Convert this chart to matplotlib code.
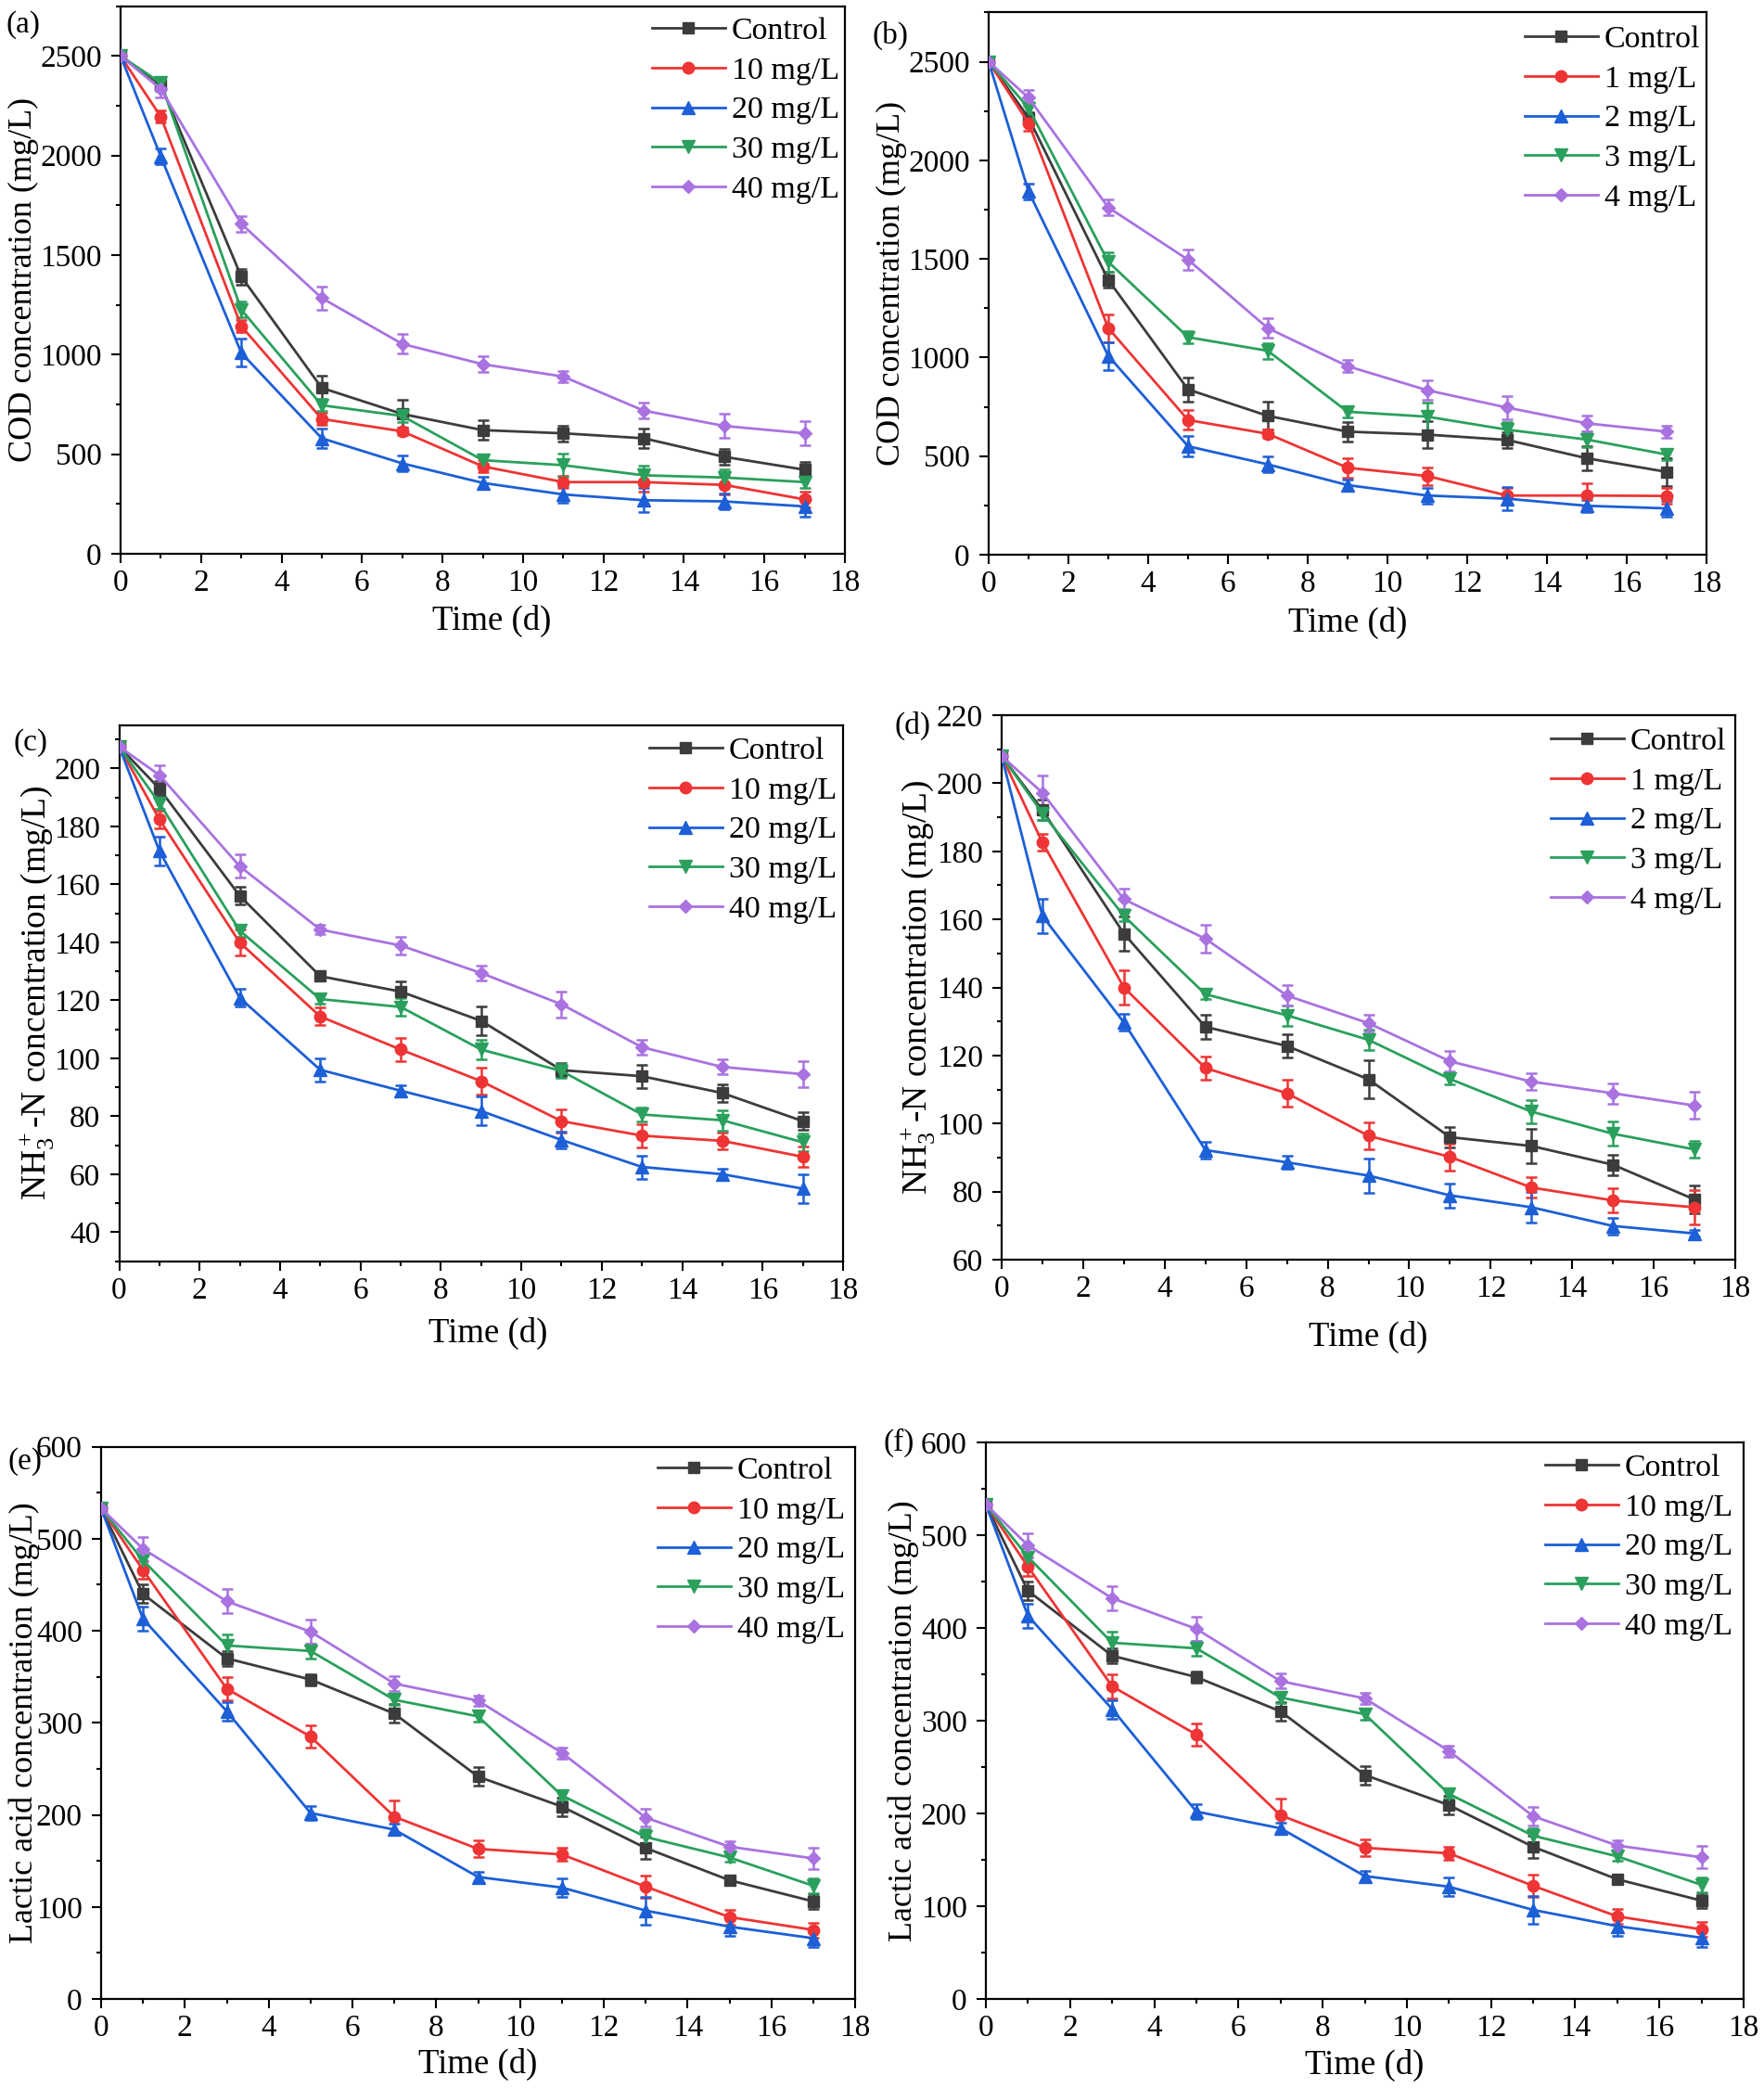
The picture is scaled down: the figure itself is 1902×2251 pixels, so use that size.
import matplotlib
matplotlib.use("Agg")
import matplotlib.pyplot as plt
from matplotlib.ticker import MultipleLocator, AutoMinorLocator

plt.rcParams['font.family'] = ['Liberation Serif', 'DejaVu Serif']
plt.rcParams['mathtext.fontset'] = 'custom'
plt.rcParams['mathtext.rm'] = 'Liberation Serif'
plt.rcParams['mathtext.it'] = 'Liberation Serif'
plt.rcParams['mathtext.default'] = 'regular'

time = [0, 1, 3, 5, 7, 9, 11, 13, 15, 17]

colors = ['#3c3c3c', '#ee3434', '#1c5fd6', '#2aa05c', '#a972e0']
markers = ['s', 'o', '^', 'v', 'D']
msizes = [8.5, 9, 9.5, 9.5, 6.8]

labels_high = ['Control', '10 mg/L', '20 mg/L', '30 mg/L', '40 mg/L']
labels_low = ['Control', '1 mg/L', '2 mg/L', '3 mg/L', '4 mg/L']

# (a) COD, high dose
cod_a_control = [2500, 2355, 1392, 833, 702, 621, 605, 580, 487, 422]
cod_a_10 = [2500, 2195, 1143, 677, 615, 439, 360, 360, 346, 273]
cod_a_20 = [2500, 1995, 1009, 580, 454, 356, 298, 269, 263, 238]
cod_a_30 = [2500, 2365, 1226, 746, 692, 470, 445, 394, 383, 360]
cod_a_40 = [2500, 2334, 1657, 1284, 1054, 952, 890, 719, 642, 605]
cod_a_control_err = [15, 30, 40, 60, 70, 50, 40, 50, 40, 40]
cod_a_10_err = [15, 30, 30, 30, 20, 30, 30, 50, 50, 40]
cod_a_20_err = [15, 40, 70, 50, 40, 30, 40, 60, 40, 50]
cod_a_30_err = [15, 30, 40, 30, 30, 20, 60, 50, 40, 30]
cod_a_40_err = [15, 40, 40, 60, 50, 40, 30, 40, 60, 60]

# (b) COD, low dose
cod_b_control = [2500, 2216, 1393, 838, 704, 624, 609, 582, 489, 420]
cod_b_1 = [2500, 2189, 1149, 683, 613, 441, 399, 300, 300, 298]
cod_b_2 = [2500, 1842, 1008, 550, 458, 353, 300, 284, 248, 235]
cod_b_3 = [2500, 2265, 1485, 1103, 1034, 725, 700, 634, 584, 508]
cod_b_4 = [2500, 2317, 1761, 1496, 1149, 956, 834, 746, 666, 624]
cod_b_control_err = [15, 30, 40, 60, 70, 50, 70, 40, 60, 70]
cod_b_1_err = [15, 40, 70, 50, 20, 50, 45, 40, 60, 40]
cod_b_2_err = [15, 40, 70, 50, 40, 30, 40, 60, 30, 40]
cod_b_3_err = [15, 30, 50, 30, 40, 30, 70, 40, 40, 30]
cod_b_4_err = [15, 40, 40, 50, 50, 30, 50, 60, 40, 30]

# (c) NH3-N, high dose
nh_c_control = [207.5, 193.0, 156.0, 128.3, 123.0, 112.9, 95.9, 93.8, 88.0, 78.3]
nh_c_10 = [207.5, 182.4, 139.9, 114.4, 103.0, 92.1, 78.3, 73.3, 71.5, 66.0]
nh_c_20 = [207.5, 171.5, 120.8, 96.0, 88.8, 81.8, 71.8, 62.5, 60.0, 55.0]
nh_c_30 = [207.5, 188.0, 144.0, 120.4, 117.7, 103.0, 95.6, 80.6, 78.6, 71.0]
nh_c_40 = [207.5, 197.7, 166.2, 144.4, 138.9, 129.4, 118.6, 103.8, 97.0, 94.5]
nh_c_control_err = [1.5, 2.5, 3.0, 1.0, 3.5, 5.0, 2.5, 4.0, 3.0, 3.0]
nh_c_10_err = [1.5, 3.0, 4.5, 3.0, 4.0, 4.5, 4.0, 4.0, 3.0, 3.5]
nh_c_20_err = [1.5, 5.0, 3.0, 4.0, 2.0, 5.0, 3.0, 4.0, 2.0, 5.0]
nh_c_30_err = [1.5, 2.0, 2.0, 1.5, 3.0, 3.5, 2.5, 2.5, 3.5, 3.0]
nh_c_40_err = [1.5, 3.5, 4.0, 1.5, 3.0, 2.5, 4.5, 2.5, 2.5, 4.5]

# (d) NH3-N, low dose
nh_d_control = [208, 192.1, 155.8, 128.4, 122.8, 113.0, 96.0, 93.4, 87.9, 77.7]
nh_d_1 = [208, 182.6, 140.0, 116.3, 108.9, 96.4, 90.2, 81.2, 77.4, 75.4]
nh_d_2 = [208, 161.0, 129.7, 92.2, 88.6, 84.7, 78.9, 75.4, 69.9, 67.7]
nh_d_3 = [208, 191.2, 161.0, 138.0, 131.8, 124.6, 113.1, 103.5, 97.0, 92.4]
nh_d_4 = [208, 197.2, 165.9, 154.3, 137.6, 129.5, 118.3, 112.3, 108.9, 105.3]
nh_d_control_err = [1.5, 3.0, 5.0, 3.5, 3.5, 5.5, 3.0, 5.0, 3.0, 4.0]
nh_d_1_err = [1.5, 2.5, 5.0, 3.5, 4.0, 4.0, 4.0, 3.0, 3.5, 5.0]
nh_d_2_err = [1.5, 5.0, 2.5, 2.5, 2.0, 5.0, 3.5, 4.5, 2.5, 1.0]
nh_d_3_err = [1.5, 2.0, 1.5, 1.5, 3.0, 3.0, 1.5, 3.5, 3.5, 2.5]
nh_d_4_err = [1.5, 5.0, 3.0, 4.0, 3.0, 2.5, 3.0, 2.5, 3.0, 4.0]

# (e) and (f) lactic acid
la_control = [533, 440, 370, 347, 310, 241.5, 209, 164, 129, 106]
la_10 = [533, 466, 337, 285, 198, 163, 157, 122, 89, 75]
la_20 = [533, 413, 312.5, 202, 184, 132.5, 121, 96, 78.5, 66]
la_30 = [533, 476.5, 384, 378, 325, 307, 221, 176, 153.7, 123]
la_40 = [533, 489, 432, 399, 342.6, 324, 267.4, 197, 165.4, 152.7]
la_control_err = [5, 10, 8, 6, 10, 10, 10, 12, 4, 8]
la_10_err = [5, 10, 13, 12, 18, 9, 7, 12, 8, 8]
la_20_err = [5, 13, 10, 8, 6, 6, 10, 15, 10, 10]
la_30_err = [5, 10, 12, 8, 6, 6, 5, 8, 5, 8]
la_40_err = [5, 13, 13, 13, 8, 6, 6, 10, 6, 12]

W, H = 1902, 2251
fig = plt.figure(figsize=(W / 100, H / 100), dpi=100)

nh_label = r'NH$_3^+$-N concentration (mg/L)'
panels = [
    dict(tag='(a)', rect=(130, 911, 6.7, 597), ylim=(0, 2750), ymaj=500,
         ylabel='COD concentration (mg/L)', ylfs=26,
         series=[cod_a_control, cod_a_10, cod_a_20, cod_a_30, cod_a_40],
         errs=[cod_a_control_err, cod_a_10_err, cod_a_20_err, cod_a_30_err, cod_a_40_err],
         labels=labels_high, ylc=-0.113, xlc=(0.512, -0.093), leg=(703, 119), tagpos=(6, 27)),
    dict(tag='(b)', rect=(1066, 1840, 13.4, 598), ylim=(0, 2750), ymaj=500,
         ylabel='COD concentration (mg/L)', ylfs=26,
         series=[cod_b_control, cod_b_1, cod_b_2, cod_b_3, cod_b_4],
         errs=[cod_b_control_err, cod_b_1_err, cod_b_2_err, cod_b_3_err, cod_b_4_err],
         labels=labels_low, ylc=-0.114, xlc=(0.5, -0.096), leg=(1644, 128), tagpos=(940, 38)),
    dict(tag='(c)', rect=(128.5, 909, 781.5, 1359.6), ylim=(30, 215), ymaj=20,
         ylabel=nh_label, ylfs=27,
         series=[nh_c_control, nh_c_10, nh_c_20, nh_c_30, nh_c_40],
         errs=[nh_c_control_err, nh_c_10_err, nh_c_20_err, nh_c_30_err, nh_c_40_err],
         labels=labels_high, ylc=-0.087, xlc=(0.51, -0.104), leg=(700, 895), tagpos=(15, 801)),
    dict(tag='(d)', rect=(1080, 1871, 771, 1358), ylim=(60, 220), ymaj=20,
         ylabel=nh_label, ylfs=27,
         series=[nh_d_control, nh_d_1, nh_d_2, nh_d_3, nh_d_4],
         errs=[nh_d_control_err, nh_d_1_err, nh_d_2_err, nh_d_3_err, nh_d_4_err],
         labels=labels_low, ylc=-0.087, xlc=(0.5, -0.112), leg=(1672, 885), tagpos=(965, 782)),
    dict(tag='(e)', rect=(109, 922, 1559.6, 2155), ylim=(0, 600), ymaj=100,
         ylabel='Lactic acid concentration (mg/L)', ylfs=26,
         series=[la_control, la_10, la_20, la_30, la_40],
         errs=[la_control_err, la_10_err, la_20_err, la_30_err, la_40_err],
         labels=labels_high, ylc=-0.081, xlc=(0.5, -0.088), leg=(709, 1671), tagpos=(8, 1576)),
    dict(tag='(f)', rect=(1063, 1880, 1555, 2155), ylim=(0, 600), ymaj=100,
         ylabel='Lactic acid concentration (mg/L)', ylfs=26,
         series=[la_control, la_10, la_20, la_30, la_40],
         errs=[la_control_err, la_10_err, la_20_err, la_30_err, la_40_err],
         labels=labels_high, ylc=-0.088, xlc=(0.5, -0.090), leg=(1666, 1668), tagpos=(953, 1555)),
]

for p in panels:
    l, r, t, b = p['rect']
    ax = fig.add_axes([l / W, 1 - b / H, (r - l) / W, (b - t) / H])
    handles = []
    for vals, errs, c, m, ms, lab in zip(p['series'], p['errs'], colors, markers, msizes, p['labels']):
        ax.errorbar(time, vals, yerr=errs, fmt='none', ecolor=c, elinewidth=1.8,
                    capsize=4.2, capthick=1.8, zorder=2)
        ln, = ax.plot(time, vals, color=c, lw=2.0, marker=m, ms=ms, mfc=c, mec=c,
                      label=lab, zorder=3)
        handles.append(ln)
    ax.set_xlim(0, 18)
    ax.set_ylim(*p['ylim'])
    ax.xaxis.set_major_locator(MultipleLocator(2))
    ax.xaxis.set_minor_locator(AutoMinorLocator(2))
    ax.yaxis.set_major_locator(MultipleLocator(p['ymaj']))
    ax.yaxis.set_minor_locator(AutoMinorLocator(2))
    ax.tick_params(which='both', direction='out', top=False, right=False, width=1.5)
    ax.tick_params(which='major', length=7, labelsize=24)
    ax.tick_params(axis='x', which='major', pad=5)
    ax.tick_params(axis='y', which='major', pad=7.5)
    ax.tick_params(which='minor', length=3.6)
    for s in ax.spines.values():
        s.set_linewidth(1.6)
    ax.set_xlabel('Time (d)', fontsize=26.5)
    ax.set_ylabel(p['ylabel'], fontsize=p['ylfs'])
    ax.xaxis.set_label_coords(*p['xlc'])
    ax.yaxis.set_label_coords(p['ylc'], 0.5)
    lx, ly = p['leg']
    ax.legend(handles=handles, loc='center left', bbox_to_anchor=(lx / W, 1 - ly / H),
              bbox_transform=fig.transFigure, frameon=False, fontsize=24.5,
              handlelength=2.32, handletextpad=0.2, labelspacing=0.35,
              borderpad=0, borderaxespad=0, numpoints=1)
    tx, ty = p['tagpos']
    fig.text(tx / W, 1 - ty / H, p['tag'], fontsize=24, ha='left', va='center')

fig.savefig('out.png', dpi=100)
